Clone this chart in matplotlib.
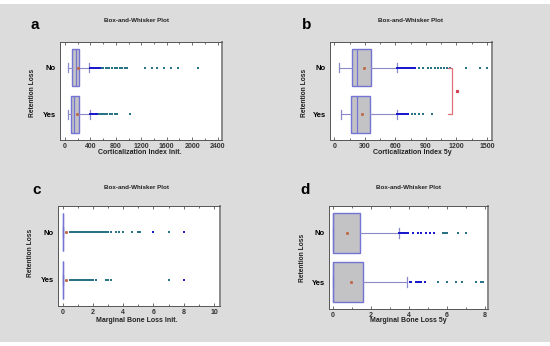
import matplotlib.pyplot as plt
from matplotlib.patches import Rectangle
from matplotlib.ticker import MultipleLocator

plt.rcParams['font.family'] = ['Liberation Sans', 'DejaVu Sans']

W, H = 550, 346

# categories (bottom to top)
groups = ['Yes', 'No']

# panel a - Corticalization Index Init.
a_stats = {
    'No':  dict(whislo=42, q1=115, med=168, q3=220, whishi=383, mean=200),
    'Yes': dict(whislo=52, q1=95, med=142, q3=220, whishi=394, mean=195),
}
a_near = {
    'No':  [390, 400, 410, 420, 430, 440, 450, 460, 470, 480, 495, 510, 530, 550],
    'Yes': [400, 415, 430, 450, 470, 490, 510],
}
a_far = {
    'No':  [577, 604, 646, 667, 698, 735, 787, 824, 866, 892, 945, 970,
            1260, 1365, 1445, 1560, 1670, 1775, 2100],
    'Yes': [540, 570, 600, 630, 660, 700, 740, 780, 815, 1024],
}

# panel b - Corticalization Index 5y
b_stats = {
    'No':  dict(whislo=46, q1=171, med=226, q3=358, whishi=614, mean=295),
    'Yes': dict(whislo=62, q1=164, med=220, q3=351, whishi=614, mean=276),
}
b_near = {
    'No':  [620, 630, 640, 650, 660, 670, 680, 690, 700, 710, 720, 730, 740,
            750, 760, 770, 780, 794],
    'Yes': [620, 630, 640, 650, 660, 670, 690, 710, 728],
}
b_far = {
    'No':  [830, 875, 920, 950, 985, 1020, 1050, 1080, 1110, 1138, 1293, 1434, 1500],
    'Yes': [761, 795, 830, 875, 958],
}
b_bracket_x = 1155
b_bracket_dot = 1204

# panel c - Marginal Bone Loss Init.
c_stats = {
    'No':  dict(whislo=0, q1=0, med=0, q3=0, whishi=0, mean=0.26),
    'Yes': dict(whislo=0, q1=0, med=0, q3=0, whishi=0, mean=0.26),
}
c_near = {
    'No':  [6.0, 8.0],
    'Yes': [8.0],
}
c_far = {
    'No':  [0.48, 0.55, 0.6, 0.65, 0.7, 0.8, 0.9, 1.0, 1.1, 1.2, 1.3, 1.4, 1.5,
            1.6, 1.7, 1.8, 1.9, 2.0, 2.1, 2.2, 2.3, 2.4, 2.5, 2.6, 2.7, 2.8,
            2.9, 3.0, 3.2, 3.5, 3.7, 4.0, 4.6, 5.0, 5.1, 7.0],
    'Yes': [0.5, 0.6, 0.7, 0.8, 0.9, 1.0, 1.1, 1.2, 1.3, 1.4, 1.5, 1.6, 1.7,
            1.8, 1.9, 2.0, 2.2, 2.9, 3.0, 3.2, 7.0],
}

# panel d - Marginal Bone Loss 5y
d_stats = {
    'No':  dict(whislo=0, q1=0, med=0, q3=1.41, whishi=3.48, mean=0.76),
    'Yes': dict(whislo=0, q1=0, med=0, q3=1.58, whishi=3.9, mean=0.97),
}
d_near = {
    'No':  [3.5, 3.55, 3.6, 3.65, 3.7, 3.75, 3.8, 3.9, 3.95, 4.2, 4.5, 4.65,
            4.9, 5.1, 5.35],
    'Yes': [4.05, 4.1, 4.4, 4.5, 4.55, 4.6, 4.65, 4.85],
}
d_far = {
    'No':  [5.8, 5.85, 5.9, 6.0, 6.6, 7.0],
    'Yes': [5.55, 6.0, 6.47, 6.8, 7.52, 7.8, 7.9],
}

BG = '#dcdcdc'
BOX_FILL = '#c3c3c6'
BOX_EDGE = '#7474d4'
WHISK = '#8a8ac8'
NEAR = '#1a1acc'
FAR = '#2a7285'
MEAN = '#c06a4a'

fig = plt.figure(figsize=(W / 100, H / 100), dpi=100)
fig.patch.set_facecolor('white')
fig.add_artist(Rectangle((0, 4 / H), 1, 338 / H, transform=fig.transFigure,
                         facecolor=BG, edgecolor='none', zorder=0))


def fx(x):
    return x / W


def fy(y):
    return 1 - y / H


def panel(rect, stats, near, far, xlim, major, minor, xlabel, letter,
          title_xy, letter_xy, xlabel_xy, ylabel_xy, box_w=0.8):
    l, t, r, b = rect
    ax = fig.add_axes([fx(l), fy(b), fx(r - l), (b - t) / H])
    ax.set_facecolor('white')
    bstats = []
    for g in groups:
        s = dict(stats[g])
        s['fliers'] = []
        s['label'] = g
        bstats.append(s)
    ax.bxp(bstats, positions=[1, 2], widths=box_w, orientation='horizontal',
           showmeans=True, showfliers=False, patch_artist=True, capwidths=0.2,
           boxprops=dict(facecolor=BOX_FILL, edgecolor=BOX_EDGE, linewidth=1.0),
           medianprops=dict(color=BOX_EDGE, linewidth=0.9),
           whiskerprops=dict(color=WHISK, linewidth=0.8),
           capprops=dict(color=WHISK, linewidth=0.9),
           meanprops=dict(marker='s', markersize=1.1, markerfacecolor=MEAN,
                          markeredgecolor=MEAN))
    for i, g in enumerate(groups):
        ax.plot(near[g], [i + 1] * len(near[g]), 's', ms=2.0, color=NEAR, mew=0)
        ax.plot(far[g], [i + 1] * len(far[g]), 's', ms=2.0, color=FAR, mew=0)
    ax.set_xlim(*xlim)
    ax.set_ylim(0.45, 2.55)
    ax.xaxis.set_major_locator(MultipleLocator(major))
    ax.xaxis.set_minor_locator(MultipleLocator(minor))
    ax.tick_params(axis='x', which='both', direction='in', top=True,
                   labelsize=5, length=2, width=0.5, pad=2, colors='#333333')
    ax.tick_params(axis='x', which='minor', length=1.2)
    ax.set_yticks([1, 2])
    ax.set_yticklabels(groups, fontsize=5.5, fontweight='bold')
    ax.tick_params(axis='y', length=0, pad=3)
    for sp in ax.spines.values():
        sp.set_color('#555555')
        sp.set_linewidth(0.7)
    ax.spines['right'].set_linewidth(1.4)
    ax.spines['right'].set_color('#8a8a8a')
    for lab in ax.get_xticklabels():
        lab.set_fontweight('bold')
    fig.text(fx(title_xy[0]), fy(title_xy[1]), 'Box-and-Whisker Plot',
             fontsize=4.5, ha='center', va='center', fontweight='bold',
             color='#222222')
    fig.text(fx(letter_xy[0]), fy(letter_xy[1]), letter, fontsize=11,
             fontweight='bold', ha='center', va='center')
    fig.text(fx(xlabel_xy[0]), fy(xlabel_xy[1]), xlabel, fontsize=5,
             fontweight='bold', ha='center', va='center', color='#222222')
    fig.text(fx(ylabel_xy[0]), fy(ylabel_xy[1]), 'Retention Loss', fontsize=4.8,
             fontweight='bold', ha='center', va='center', rotation=90,
             color='#222222')
    return ax


panel((60, 42, 222, 140), a_stats, a_near, a_far, (-80, 2470), 400, 200,
      'Corticalization Index Init.', 'a', (137, 20), (35, 25), (140, 153), (33, 93))

axb = panel((330, 42, 492, 140), b_stats, b_near, b_far, (-43, 1550), 300, 150,
            'Corticalization Index 5y', 'b', (410, 20), (307, 25), (412, 152), (304, 93))
# red bracket between the two groups
axb.plot([b_bracket_x - 35, b_bracket_x, b_bracket_x, b_bracket_x - 35],
         [2, 2, 1, 1], color='#e0707a', lw=0.9)
axb.plot([b_bracket_dot], [1.5], 's', ms=1.3, color='#d04050')

panel((58, 206, 220, 306), c_stats, c_near, c_far, (-0.3, 10.4), 2, 1,
      'Marginal Bone Loss Init.', 'c', (137, 188), (37, 190), (137, 321), (31, 253))

panel((329, 206, 488, 309), d_stats, d_near, d_far, (-0.2, 8.17), 2, 1,
      'Marginal Bone Loss 5y', 'd', (408, 188), (305, 190), (408, 321), (302, 258))

fig.savefig('out.png', dpi=100)
